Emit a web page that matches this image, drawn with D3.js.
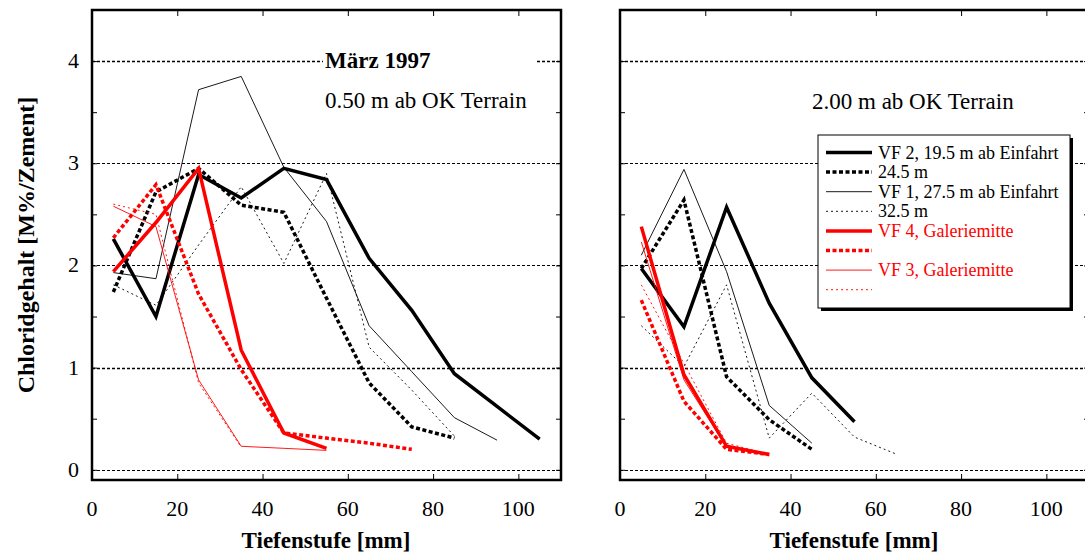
<!DOCTYPE html>
<html>
<head>
<meta charset="utf-8">
<script src="https://cdn.jsdelivr.net/npm/d3@7"></script>
<style>
	body { margin: 0; background: #fff; }
	text { font-family: "Liberation Serif", "Times New Roman", serif; }
</style>
</head>
<body>
<div id="chart"></div>
<script>
// Tiefenstufe (mm), Mitte der Entnahmeschicht
var depth = [5, 15, 25, 35, 45, 55, 65, 75, 85, 95, 105];

var seriesNames = [
	"VF 2, 19.5 m ab Einfahrt",
	"24.5 m",
	"VF 1, 27.5 m ab Einfahrt",
	"32.5 m",
	"VF 4, Galeriemitte",
	"",
	"VF 3, Galeriemitte",
	""
];

// 0.50 m ab OK Terrain
var left_vf2_195 = [2.26, 1.5, 2.89, 2.66, 2.95, 2.84, 2.07, 1.56, 0.94, 0.62, 0.3];
var left_vf2_245 = [1.74, 2.72, 2.95, 2.59, 2.52, 1.68, 0.85, 0.42, 0.31];
var left_vf1_275 = [1.93, 1.87, 3.72, 3.85, 2.96, 2.43, 1.41, 0.96, 0.51, 0.29];
var left_vf1_325 = [1.81, 1.61, 2.2, 2.77, 2.02, 2.9, 1.2, 0.78, 0.33];
var left_vf4_a = [1.94, 2.42, 2.95, 1.17, 0.36, 0.21];
var left_vf4_b = [2.27, 2.79, 1.72, 0.98, 0.36, 0.31, 0.26, 0.2];
var left_vf3_a = [2.58, 2.38, 0.88, 0.23, 0.21, 0.19];
var left_vf3_b = [2.6, 2.5, 0.85, 0.22];

// 2.00 m ab OK Terrain
var right_vf2_195 = [1.97, 1.4, 2.57, 1.63, 0.9, 0.47];
var right_vf2_245 = [1.97, 2.64, 0.91, 0.49, 0.2];
var right_vf1_275 = [2.1, 2.94, 1.94, 0.63, 0.26];
var right_vf1_325 = [1.41, 1.01, 1.81, 0.31, 0.75, 0.32, 0.15];
var right_vf4_a = [2.38, 0.93, 0.23, 0.15];
var right_vf4_b = [1.66, 0.67, 0.2, 0.15];
var right_vf3_a = [2.23, 0.88, 0.22, 0.14];
var right_vf3_b = [1.81, 1.04, 0.26, 0.15];

var xTicks = [0, 20, 40, 60, 80, 100];
var yTicks = [0, 1, 2, 3, 4];

var styles = [
	{ color: "#000", width: 3.5, dash: null },
	{ color: "#000", width: 3.5, dash: "4,2.5" },
	{ color: "#000", width: 0.9, dash: null },
	{ color: "#000", width: 0.9, dash: "2,3" },
	{ color: "#ff0000", width: 3.5, dash: null },
	{ color: "#ff0000", width: 3.5, dash: "4,2.5" },
	{ color: "#ff0000", width: 0.9, dash: null },
	{ color: "#ff0000", width: 0.9, dash: "2,3" }
];

var width = 1085;
var height = 554;
var panelW = 469;
var plotTop = 10, plotBottom = 480;

var svg = d3
	.select("#chart")
	.append("svg")
	.attr("width", width)
	.attr("height", height);

var yScale = d3.scaleLinear().domain([-0.1, 4.5]).range([plotBottom, plotTop]);

function drawPanel(left, data, showYLabels) {
	var xScale = d3.scaleLinear().domain([0, 110]).range([left, left + panelW]);
	var g = svg.append("g");

	// gridlines
	g.selectAll("line.grid")
		.data(yTicks)
		.enter()
		.append("line")
		.attr("class", "grid")
		.attr("x1", left)
		.attr("x2", left + panelW)
		.attr("y1", (d) => Math.round(yScale(d)) + 0.5)
		.attr("y2", (d) => Math.round(yScale(d)) + 0.5)
		.style("stroke", "#000")
		.style("stroke-width", (d) => (d == 1 || d == 4 ? 1.6 : 1))
		.style("stroke-dasharray", "3,2");

	// series
	var line = d3
		.line()
		.x((d, i) => xScale(depth[i]))
		.y((d) => yScale(d));

	data.forEach(function (values, i) {
		g.append("path")
			.datum(values)
			.attr("d", line)
			.style("fill", "none")
			.style("stroke", styles[i].color)
			.style("stroke-width", styles[i].width)
			.style("stroke-dasharray", styles[i].dash)
			.style("stroke-linejoin", "miter");
	});

	// clip away anything outside the frame
	var clipId = "clip" + left;
	svg.append("clipPath")
		.attr("id", clipId)
		.append("rect")
		.attr("x", left)
		.attr("y", plotTop)
		.attr("width", panelW)
		.attr("height", plotBottom - plotTop);
	g.attr("clip-path", "url(#" + clipId + ")");

	// axes with inward ticks
	var yMinor = d3.range(0, 4.51, 0.5);
	svg.append("g")
		.attr("transform", "translate(" + left + ",0)")
		.call(d3.axisRight(yScale).tickValues(yMinor).tickSize(5).tickFormat(""))
		.call((a) => a.select(".domain").remove());
	svg.append("g")
		.attr("transform", "translate(" + (left + panelW) + ",0)")
		.call(d3.axisLeft(yScale).tickValues(yMinor).tickSize(5).tickFormat(""))
		.call((a) => a.select(".domain").remove());
	svg.append("g")
		.attr("transform", "translate(0," + plotBottom + ")")
		.call(d3.axisTop(xScale).tickValues(xTicks.slice(1)).tickSize(6).tickFormat(""))
		.call((a) => a.select(".domain").remove());
	svg.append("g")
		.attr("transform", "translate(0," + plotTop + ")")
		.call(d3.axisBottom(xScale).tickValues(xTicks.slice(1)).tickSize(6).tickFormat(""))
		.call((a) => a.select(".domain").remove());

	svg.append("rect")
		.attr("x", left)
		.attr("y", plotTop)
		.attr("width", panelW)
		.attr("height", plotBottom - plotTop)
		.style("fill", "none")
		.style("stroke", "#000")
		.style("stroke-width", 2.5);

	// x tick labels
	svg.selectAll("text.xt" + left)
		.data(xTicks)
		.enter()
		.append("text")
		.attr("x", (d) => xScale(d))
		.attr("y", 516)
		.style("text-anchor", "middle")
		.style("font-size", "22px")
		.text((d) => d);

	svg.append("text")
		.attr("x", left + 234)
		.attr("y", 548)
		.style("text-anchor", "middle")
		.style("font-size", "23px")
		.style("font-weight", "bold")
		.text("Tiefenstufe [mm]");

	if (showYLabels) {
		svg.selectAll("text.yt")
			.data(yTicks)
			.enter()
			.append("text")
			.attr("x", 79)
			.attr("y", (d) => yScale(d) + 7)
			.style("text-anchor", "end")
			.style("font-size", "22px")
			.text((d) => d);
	}
	return xScale;
}

drawPanel(92, [
	left_vf2_195, left_vf2_245, left_vf1_275, left_vf1_325,
	left_vf4_a, left_vf4_b, left_vf3_a, left_vf3_b
], true);

drawPanel(620, [
	right_vf2_195, right_vf2_245, right_vf1_275, right_vf1_325,
	right_vf4_a, right_vf4_b, right_vf3_a, right_vf3_b
], false);

// text box in left panel
svg.append("rect")
	.attr("x", 323)
	.attr("y", 40)
	.attr("width", 212)
	.attr("height", 80)
	.style("fill", "#fff");
svg.append("text")
	.attr("x", 325)
	.attr("y", 68)
	.style("font-size", "23px")
	.style("font-weight", "bold")
	.text("März 1997");
svg.append("text")
	.attr("x", 325)
	.attr("y", 108)
	.style("font-size", "23px")
	.text("0.50 m ab OK Terrain");

svg.append("text")
	.attr("x", 812)
	.attr("y", 109)
	.style("font-size", "23px")
	.text("2.00 m ab OK Terrain");

// y axis title
svg.append("text")
	.attr("transform", "translate(34,245) rotate(-90)")
	.style("text-anchor", "middle")
	.style("font-size", "24px")
	.style("font-weight", "bold")
	.text("Chloridgehalt [M%/Zement]");

// legend
var lg = svg.append("g").attr("transform", "translate(818,135)");
lg.append("rect")
	.attr("x", 3)
	.attr("y", 3)
	.attr("width", 252)
	.attr("height", 173)
	.style("fill", "#000");
lg.append("rect")
	.attr("x", 0)
	.attr("y", 0)
	.attr("width", 252)
	.attr("height", 173)
	.style("fill", "#fff")
	.style("stroke", "#000")
	.style("stroke-width", 1);

seriesNames.forEach(function (name, i) {
	var y = 17.5 + i * 19.6;
	lg.append("line")
		.attr("x1", 8)
		.attr("x2", 54)
		.attr("y1", y)
		.attr("y2", y)
		.style("stroke", styles[i].color)
		.style("stroke-width", styles[i].width)
		.style("stroke-dasharray", styles[i].dash);
	lg.append("text")
		.attr("x", 60)
		.attr("y", y + 6)
		.style("font-size", "18px")
		.style("fill", styles[i].color)
		.text(name);
});
</script>
</body>
</html>
